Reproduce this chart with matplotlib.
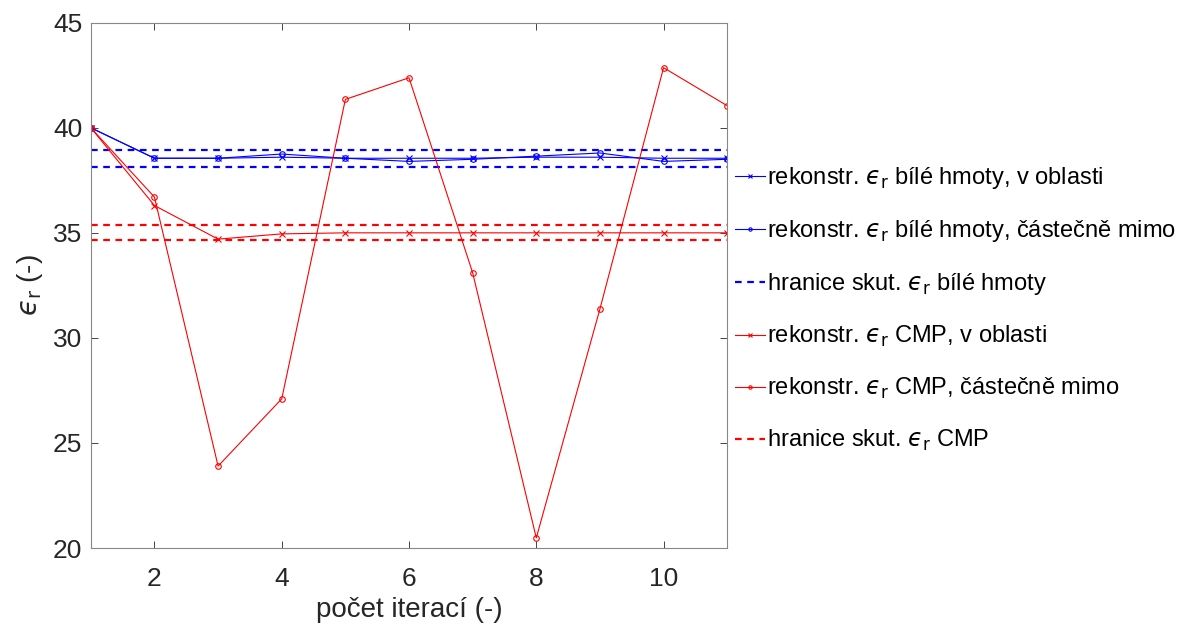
import matplotlib.pyplot as plt

plt.rcParams['font.family'] = ['Liberation Sans', 'DejaVu Sans']
plt.rcParams['mathtext.fontset'] = 'dejavusans'

# data
iterace = [1, 2, 3, 4, 5, 6, 7, 8, 9, 10, 11]
bila_v_oblasti = [40.0, 38.55, 38.55, 38.6, 38.55, 38.55, 38.55, 38.6, 38.6, 38.55, 38.55]
bila_mimo = [40.0, 38.55, 38.55, 38.75, 38.55, 38.4, 38.5, 38.65, 38.8, 38.4, 38.5]
bila_hranice = [38.95, 38.15]
cmp_v_oblasti = [40.0, 36.3, 34.7, 34.95, 35.0, 35.0, 35.0, 35.0, 35.0, 35.0, 35.0]
cmp_mimo = [40.0, 36.7, 23.9, 27.1, 41.35, 42.38, 33.1, 20.48, 31.38, 42.86, 41.05]
cmp_hranice = [35.35, 34.65]

eps = '$\u03f5_\\mathrm{r}$'

fig = plt.figure(figsize=(11.84, 6.26), dpi=100)
ax = fig.add_axes([0.0767, 0.1246, 0.5375, 0.8391])

ax.plot(iterace, bila_v_oblasti, color='blue', lw=0.8, marker='x', ms=4, mew=0.8,
        label='rekonstr. ' + eps + ' bílé hmoty, v oblasti')
ax.plot(iterace, bila_mimo, color='blue', lw=0.8, marker='o', ms=4, mew=0.8, mfc='none',
        label='rekonstr. ' + eps + ' bílé hmoty, částečně mimo')
for i, h in enumerate(bila_hranice):
    ax.axhline(h, color='blue', ls='--', lw=1.6, dashes=(3, 2.5),
               label='hranice skut. ' + eps + ' bílé hmoty' if i == 0 else None)
ax.plot(iterace, cmp_v_oblasti, color='red', lw=0.8, marker='x', ms=4, mew=0.8,
        label='rekonstr. ' + eps + ' CMP, v oblasti')
ax.plot(iterace, cmp_mimo, color='red', lw=0.8, marker='o', ms=4, mew=0.8, mfc='none',
        label='rekonstr. ' + eps + ' CMP, částečně mimo')
for i, h in enumerate(cmp_hranice):
    ax.axhline(h, color='red', ls='--', lw=1.6, dashes=(3, 2.5),
               label='hranice skut. ' + eps + ' CMP' if i == 0 else None)

ax.set_xlim(1, 11)
ax.set_ylim(20, 45)
ax.set_xticks([2, 4, 6, 8, 10])
ax.set_yticks([20, 25, 30, 35, 40, 45])
ax.tick_params(direction='in', top=True, right=True, labelsize=19, colors='#262626',
               length=5, width=0.6, pad=6)
ax.tick_params(axis='x', pad=14)
for s in ax.spines.values():
    s.set_color('#888888')
    s.set_linewidth(0.8)
ax.set_xlabel('počet iterací (-)', fontsize=20, color='#262626', labelpad=4)
ax.set_ylabel(eps + ' (-)', fontsize=20, color='#262626', labelpad=6)

fig.legend(*ax.get_legend_handles_labels(), loc='center left',
           bbox_to_anchor=(0.621, 0.506), frameon=False, fontsize=17,
           handlelength=1.25, handletextpad=0.1, labelspacing=1.14,
           borderaxespad=0, borderpad=0, markerscale=0.6)

plt.savefig('out.png', dpi=100)
